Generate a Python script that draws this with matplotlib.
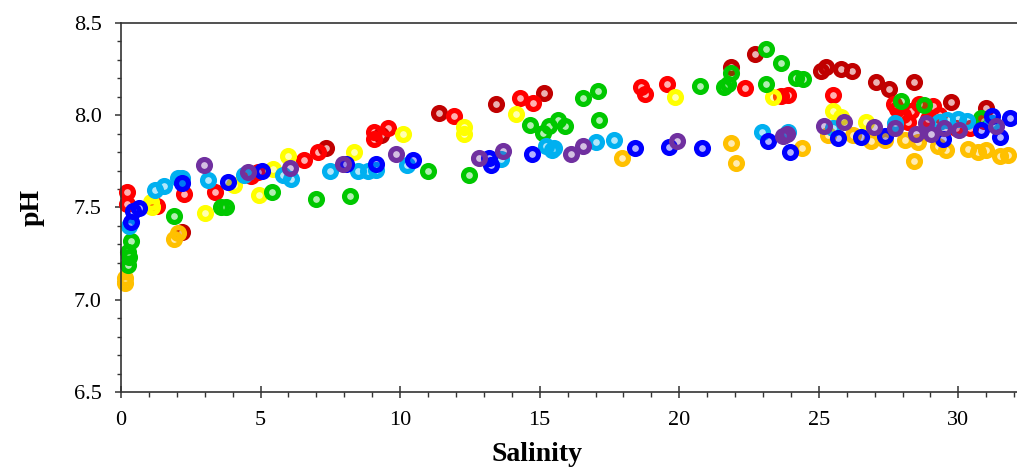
import matplotlib
matplotlib.use("Agg")
import matplotlib.pyplot as plt
from matplotlib.ticker import MultipleLocator
from matplotlib.colors import to_rgba

plt.rcParams['font.family'] = ['Liberation Serif', 'DejaVu Serif']

# ---- data (salinity, pH) per group ----
darkred_x = [2.2, 7.35, 9.32, 11.41, 13.42, 15.15, 21.86, 22.72, 25.09, 25.27, 25.78, 26.2, 27.06, 27.53, 28.4, 29.75, 31.0]
darkred_y = [7.37, 7.82, 7.89, 8.01, 8.06, 8.12, 8.26, 8.33, 8.24, 8.26, 8.25, 8.24, 8.18, 8.14, 8.18, 8.07, 8.04]

red_x = [0.2, 0.2, 1.3, 2.27, 3.35, 4.66, 4.9, 6.55, 7.05, 9.06, 9.08, 9.58, 11.92, 14.28, 14.76, 18.64, 18.76, 19.56,
         22.37, 23.66, 23.9, 25.5, 27.7, 27.8, 28.0, 28.3, 28.6, 28.9, 29.1, 29.3, 28.2, 30.4, 29.9, 30.9]
red_y = [7.585, 7.52, 7.51, 7.575, 7.585, 7.67, 7.69, 7.755, 7.80, 7.91, 7.87, 7.93, 7.995, 8.09, 8.065, 8.15, 8.115, 8.17,
         8.145, 8.105, 8.11, 8.11, 8.06, 8.03, 8.0, 8.02, 8.06, 7.98, 8.05, 8.0, 7.96, 7.93, 7.93, 7.97]

yellow_x = [1.08, 1.1, 3.01, 4.06, 4.93, 5.43, 5.97, 8.36, 10.09, 12.3, 12.3, 14.16, 19.83, 23.35, 25.5, 25.8, 26.7]
yellow_y = [7.53, 7.50, 7.47, 7.62, 7.565, 7.71, 7.78, 7.80, 7.90, 7.935, 7.895, 8.005, 8.10, 8.10, 8.02, 7.99, 7.96]

orange_x = [0.15, 0.15, 2.03, 1.9, 17.96, 21.86, 22.04, 24.4, 25.33, 26.23, 26.88, 27.36, 28.07, 28.4, 28.55, 29.27,
            29.57, 30.35, 30.7, 31.0, 31.5, 31.78]
orange_y = [7.12, 7.09, 7.36, 7.33, 7.765, 7.85, 7.74, 7.82, 7.89, 7.89, 7.86, 7.865, 7.865, 7.75, 7.855, 7.83,
            7.81, 7.815, 7.80, 7.81, 7.78, 7.785]

green_x = [0.35, 0.25, 0.3, 0.25, 1.9, 3.58, 3.75, 5.41, 6.99, 8.22, 11.0, 12.48, 14.67, 15.11, 15.35, 15.65, 15.89,
           16.55, 17.08, 17.12, 20.76, 21.62, 21.75, 21.86, 23.09, 23.66, 23.09, 24.19, 24.43, 27.96, 28.77, 30.8]
green_y = [7.32, 7.26, 7.23, 7.19, 7.455, 7.50, 7.50, 7.585, 7.545, 7.56, 7.70, 7.675, 7.945, 7.905, 7.94, 7.975, 7.94,
           8.09, 8.13, 7.975, 8.155, 8.15, 8.17, 8.225, 8.355, 8.28, 8.17, 8.20, 8.195, 8.075, 8.055, 7.985]

lightblue_x = [0.3, 1.2, 1.55, 2.03, 2.2, 3.13, 4.42, 5.79, 6.09, 7.5, 8.48, 8.84, 9.14, 10.25, 13.62, 15.23, 15.45,
               15.53, 17.03, 17.65, 22.96, 23.9, 25.5, 27.72, 29.3, 29.6, 30.0, 30.3, 31.2]
lightblue_y = [7.40, 7.595, 7.615, 7.66, 7.66, 7.65, 7.675, 7.675, 7.655, 7.70, 7.70, 7.70, 7.705, 7.73, 7.76, 7.835, 7.81,
               7.82, 7.855, 7.865, 7.91, 7.91, 7.93, 7.955, 7.963, 7.975, 7.98, 7.97, 7.955]

blue_x = [0.65, 0.42, 0.36, 2.18, 3.82, 5.05, 8.06, 9.14, 10.45, 13.2, 13.26, 14.73, 18.43, 19.62, 20.82, 23.19, 23.95,
          25.68, 26.52, 27.38, 29.44, 30.8, 31.2, 31.84, 31.5]
blue_y = [7.495, 7.48, 7.42, 7.635, 7.64, 7.695, 7.735, 7.735, 7.755, 7.77, 7.73, 7.79, 7.82, 7.825, 7.82, 7.86, 7.80,
          7.875, 7.88, 7.885, 7.87, 7.92, 7.995, 7.985, 7.88]

purple_x = [2.99, 4.54, 6.06, 7.95, 9.86, 12.82, 13.68, 16.13, 16.55, 19.93, 23.71, 23.85, 25.2, 25.9, 26.98, 27.74,
            28.48, 28.84, 29.03, 29.5, 30.03, 31.36]
purple_y = [7.73, 7.69, 7.715, 7.735, 7.79, 7.77, 7.805, 7.79, 7.835, 7.86, 7.885, 7.90, 7.94, 7.96, 7.935, 7.93,
            7.90, 7.955, 7.90, 7.93, 7.92, 7.94]

groups = [
    (darkred_x, darkred_y, '#C00000'),
    (red_x, red_y, '#FF0000'),
    (yellow_x, yellow_y, '#FFFF00'),
    (orange_x, orange_y, '#FFC000'),
    (green_x, green_y, '#00C800'),
    (lightblue_x, lightblue_y, '#00B0F0'),
    (blue_x, blue_y, '#0000FF'),
    (purple_x, purple_y, '#7030A0'),
]

fig = plt.figure(figsize=(10.17, 4.71), dpi=100)
ax = fig.add_axes([0.119, 0.1667, 0.881, 0.7855])

for xs, ys, c in groups:
    ax.plot(xs, ys, linestyle='none', marker='o', markersize=8.6,
            markeredgewidth=3.7, markeredgecolor=c,
            markerfacecolor=to_rgba(c, 0.3), clip_on=False)

ax.set_xlim(0, 32.1)
ax.set_ylim(6.5, 8.5)

ax.xaxis.set_major_locator(MultipleLocator(5))
ax.xaxis.set_minor_locator(MultipleLocator(1))
ax.yaxis.set_major_locator(MultipleLocator(0.5))
ax.yaxis.set_minor_locator(MultipleLocator(0.1))
ax.yaxis.set_major_formatter(plt.FormatStrFormatter('%.1f'))

spine_c = '#333333'
for s in ['left', 'bottom', 'top']:
    ax.spines[s].set_color(spine_c)
    ax.spines[s].set_linewidth(1.2)
ax.spines['right'].set_visible(False)

ax.tick_params(axis='x', which='major', direction='inout', length=8, width=1.1, color=spine_c,
               labelsize=16, pad=9, top=False)
ax.tick_params(axis='x', which='minor', direction='out', length=3.5, width=1.0, color=spine_c, top=False)
ax.tick_params(axis='y', which='major', direction='out', length=4, width=1.1, color=spine_c,
               labelsize=16, pad=10)
ax.tick_params(axis='y', which='minor', direction='out', length=3, width=1.0, color=spine_c)

ax.set_xlabel('Salinity', fontsize=20, fontweight='bold')
ax.set_ylabel('pH', fontsize=20, fontweight='bold')
ax.xaxis.set_label_coords(0.464, -0.133)
ax.yaxis.set_label_coords(-0.0848, 0.50)

fig.savefig('out.png', dpi=100)
